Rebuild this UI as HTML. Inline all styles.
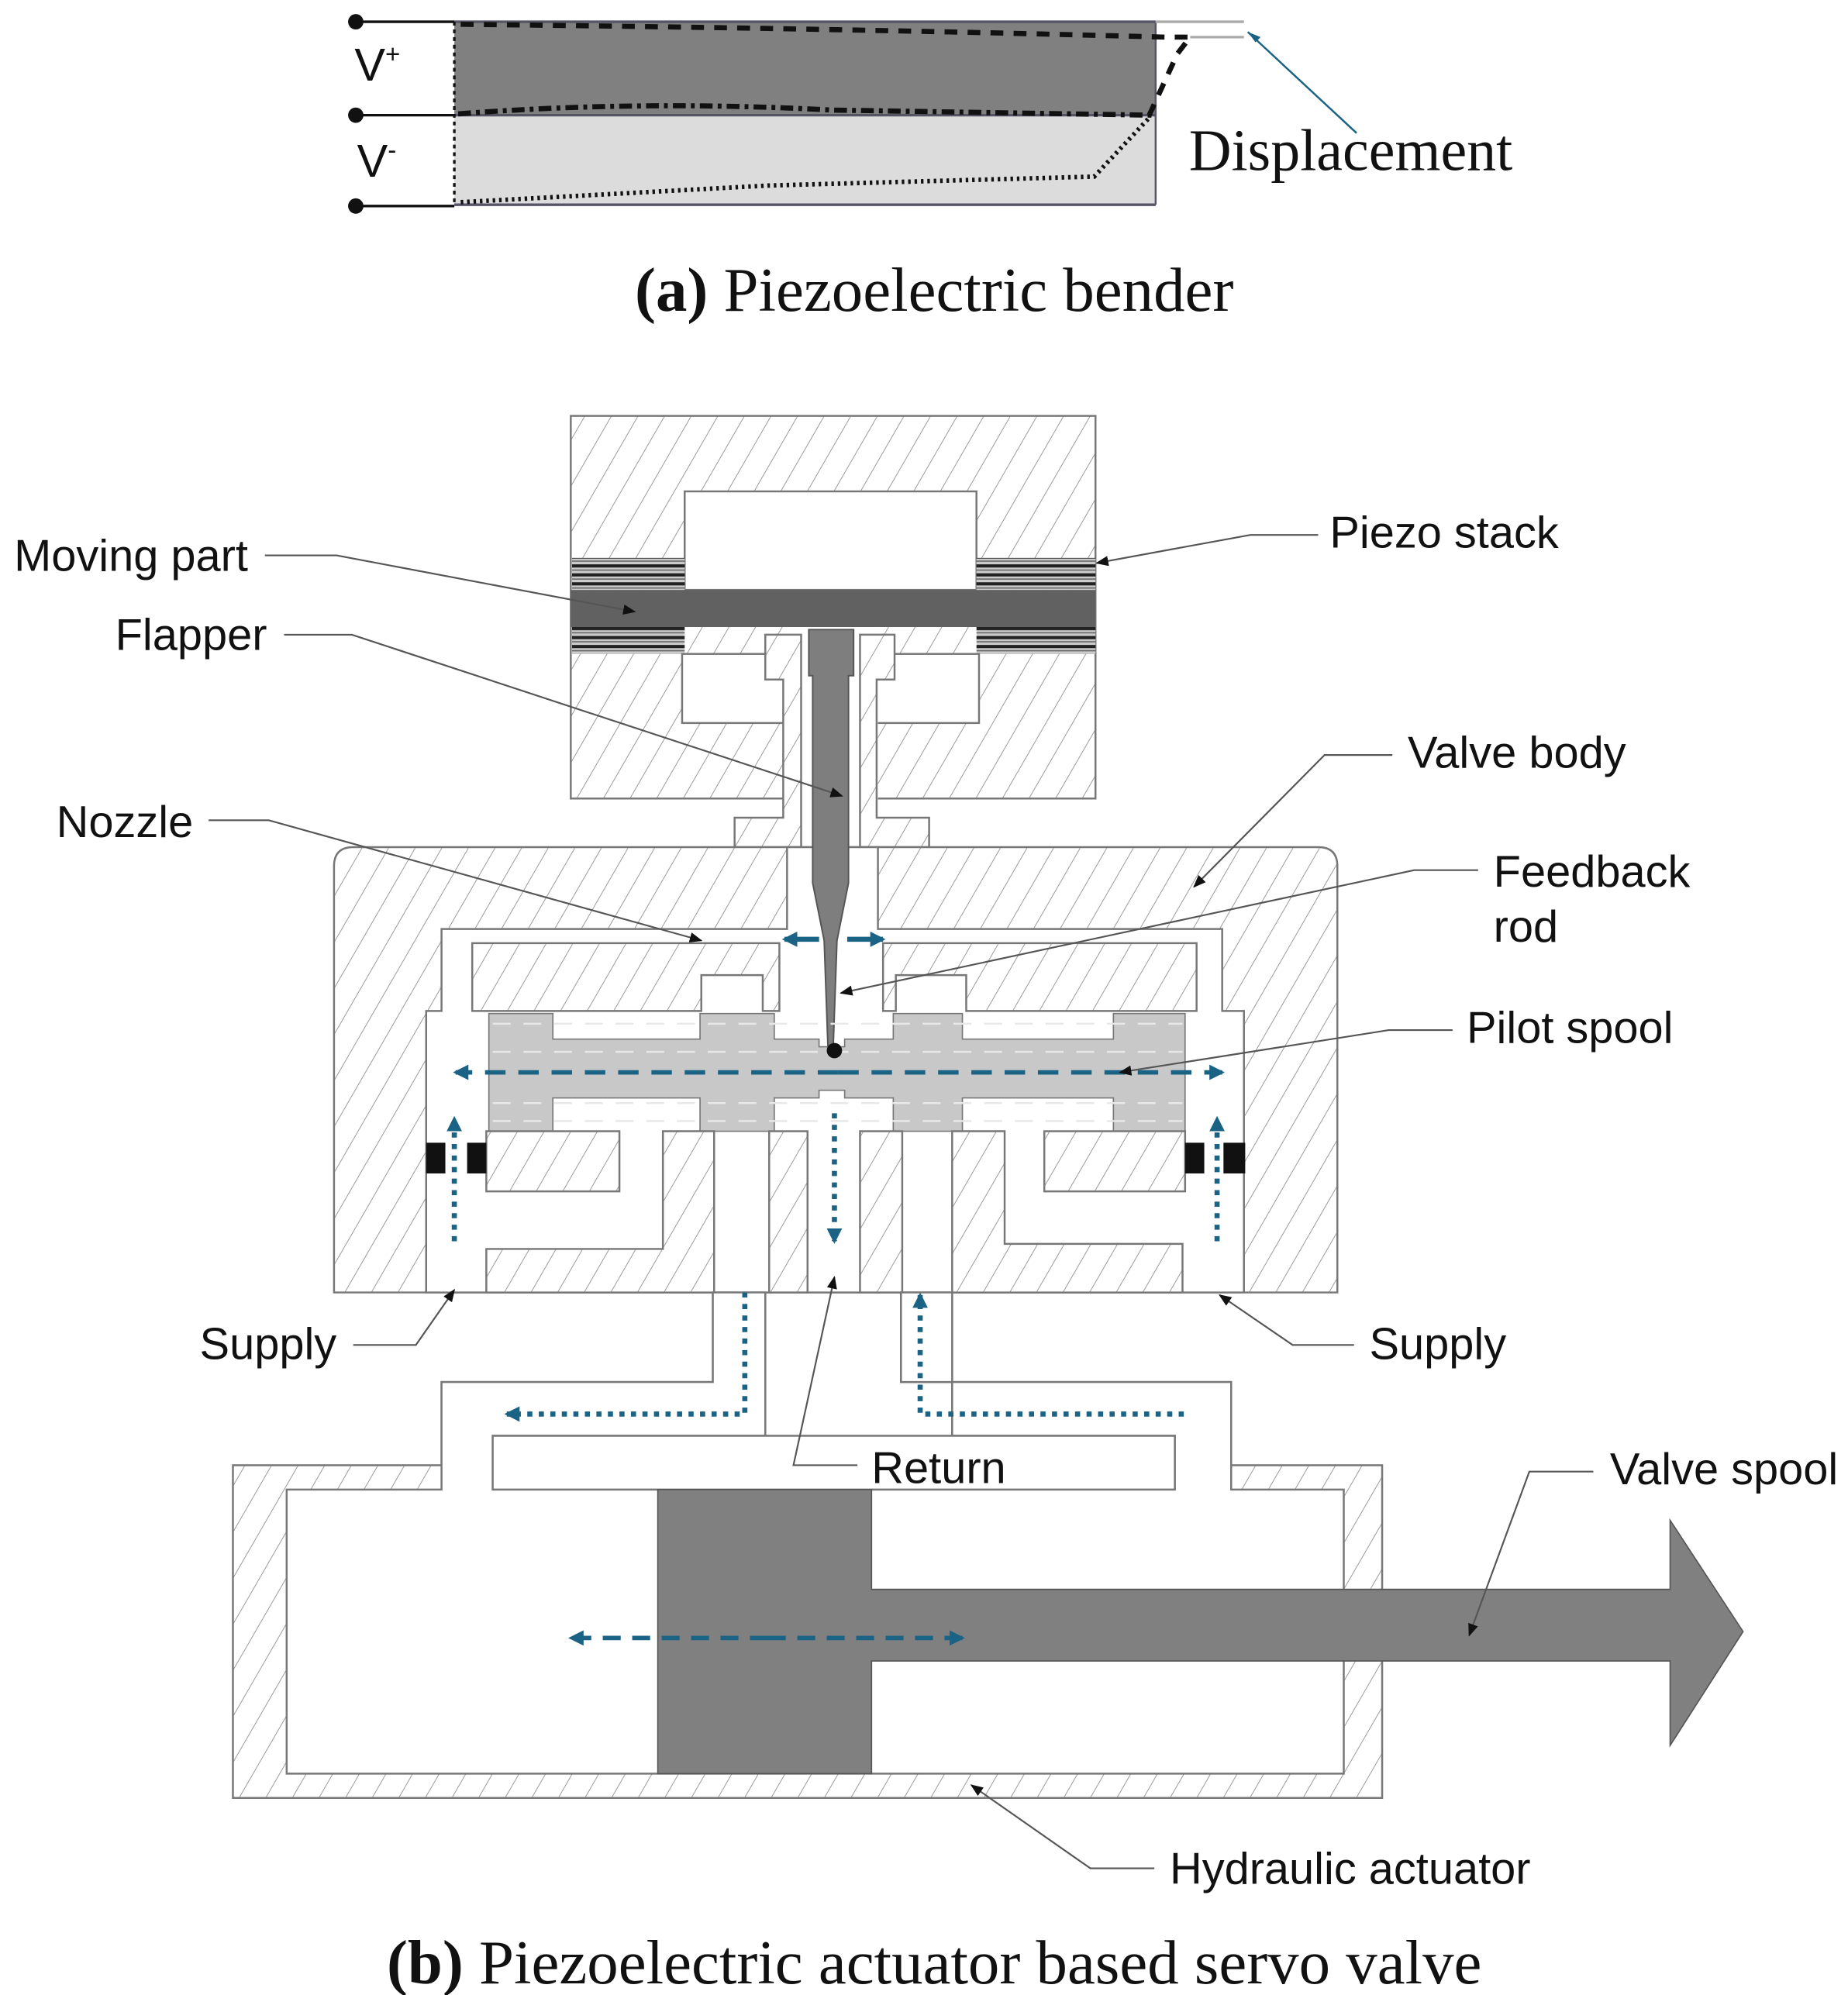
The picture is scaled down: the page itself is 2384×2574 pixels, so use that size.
<!DOCTYPE html>
<html><head><meta charset="utf-8"><style>
html,body{margin:0;padding:0;background:#fff}
svg{display:block}
.t{font-family:"Liberation Sans",sans-serif;font-size:35px;fill:#111}
.c{font-family:"Liberation Serif",serif;font-size:49px;fill:#111}
</style></head><body>
<svg width="2384" height="2574" viewBox="0 0 1444 1559" preserveAspectRatio="none" xmlns="http://www.w3.org/2000/svg">
<defs>
<pattern id="h" patternUnits="userSpaceOnUse" width="18" height="18" patternTransform="rotate(30)">
<rect width="18" height="18" fill="#fff"/><line x1="0" y1="0" x2="0" y2="18" stroke="#9a9a9a" stroke-width="1.2"/>
</pattern>
<pattern id="st" patternUnits="userSpaceOnUse" width="10" height="7">
<rect width="10" height="7" fill="#ccc"/><rect y="0" width="10" height="2.5" fill="#222"/><rect y="4" width="10" height="1" fill="#666"/>
</pattern>
<marker id="ak" markerWidth="10" markerHeight="8" refX="9" refY="4" orient="auto" markerUnits="userSpaceOnUse"><path d="M0,0 L10,4 L0,8 Z" fill="#111"/></marker>
<marker id="ab" markerWidth="12" markerHeight="12" refX="10" refY="6" orient="auto" markerUnits="userSpaceOnUse"><path d="M0,0 L12,6 L0,12 Z" fill="#1b6385"/></marker>
</defs>

<!-- (a) bender -->
<rect x="355" y="17" width="548" height="73" fill="#808080"/>
<rect x="355" y="90" width="548" height="70" fill="#dcdcdc"/>
<line x1="355" y1="17" x2="903" y2="17" stroke="#556" stroke-width="2"/>
<line x1="355" y1="90" x2="903" y2="90" stroke="#556" stroke-width="2"/>
<line x1="355" y1="160" x2="903" y2="160" stroke="#556" stroke-width="2"/>
<line x1="903" y1="17" x2="903" y2="160" stroke="#556" stroke-width="1.5"/>
<line x1="355" y1="17" x2="355" y2="160" stroke="#111" stroke-width="2" stroke-dasharray="3,3"/>
<g stroke="#111" stroke-width="2"><line x1="278" y1="17" x2="355" y2="17"/><line x1="278" y1="90" x2="355" y2="90"/><line x1="278" y1="161" x2="355" y2="161"/></g>
<g fill="#111"><circle cx="278" cy="17" r="6"/><circle cx="278" cy="90" r="6"/><circle cx="278" cy="161" r="6"/></g>
<line x1="903" y1="17" x2="972" y2="17" stroke="#aaa" stroke-width="2"/>
<line x1="930" y1="29" x2="972" y2="29" stroke="#aaa" stroke-width="2"/>
<path d="M360,19 Q650,22 910,29 L930,29 L920,42 L898,90" fill="none" stroke="#111" stroke-width="4" stroke-dasharray="10,8"/>
<path d="M358,89 Q500,78 650,86 L900,90" fill="none" stroke="#111" stroke-width="4" stroke-dasharray="10,4,3,4"/>
<path d="M360,158 L600,145 L855,138 L898,92" fill="none" stroke="#111" stroke-width="3.5" stroke-dasharray="2,3"/>
<line x1="1060" y1="104" x2="975" y2="25" stroke="#1b6385" stroke-width="1.5"/>
<path d="M975,25 L985,29 L981,33 Z" fill="#1b6385"/>
<text x="277" y="63" class="t" style="font-size:36px">V<tspan dy="-14" style="font-size:20px">+</tspan></text>
<text x="279" y="138" class="t" style="font-size:36px">V<tspan dy="-14" style="font-size:20px">-</tspan></text>
<text x="929" y="133" class="c" style="font-size:46px">Displacement</text>
<text x="730" y="243" class="c" text-anchor="middle"><tspan font-weight="bold">(a)</tspan> Piezoelectric bender</text>

<!-- top block -->
<g stroke="#777" stroke-width="1.5">
<rect x="446" y="325" width="410" height="299" fill="url(#h)"/>
<rect x="535" y="384" width="228" height="77" fill="#fff"/>
<rect x="447" y="436" width="88" height="25" fill="url(#st)" stroke="none"/>
<rect x="763" y="436" width="93" height="25" fill="url(#st)" stroke="none"/>
<rect x="447" y="489" width="88" height="22" fill="url(#st)" stroke="none"/>
<rect x="763" y="489" width="93" height="22" fill="url(#st)" stroke="none"/>
<rect x="446" y="461" width="410" height="29" fill="#616161" stroke="none"/>
<rect x="533" y="511" width="232" height="54" fill="#fff"/>
<rect x="612" y="490" width="74" height="175" fill="#fff" stroke="none"/>
<path d="M598,496 L626,496 L626,662 L574,662 L574,639 L612,639 L612,531 L598,531 Z" fill="url(#h)"/>
<path d="M672,496 L699,496 L699,531 L685,531 L685,639 L726,639 L726,662 L672,662 Z" fill="url(#h)"/>
</g>

<!-- valve body -->
<g stroke="#777" stroke-width="1.5">
<path d="M276,662 L1030,662 Q1045,662 1045,677 L1045,1010 L261,1010 L261,677 Q261,662 276,662 Z" fill="url(#h)"/>
<path d="M345,726 L615,726 L615,662 L686,662 L686,726 L955,726 L955,790 L972,790 L972,1010 L333,1010 L333,790 L345,790 Z" fill="#fff"/>
<path d="M369,737 L609,737 L609,790 L596,790 L596,762 L548,762 L548,790 L369,790 Z" fill="url(#h)"/>
<path d="M690,737 L935,737 L935,790 L755,790 L755,762 L700,762 L700,790 L690,790 Z" fill="url(#h)"/>
</g>
<!-- nozzle flapper -->
<path d="M632,492 L667,492 L667,528 L663,528 L663,690 L654,735 L651,820 L647,820 L644,735 L635,690 L635,528 L632,528 Z" fill="#7e7e7e" stroke="#555" stroke-width="1.2"/>
<!-- spool -->
<g stroke="#777" stroke-width="1">
<path d="M382,792 L432,792 L432,812 L547,812 L547,792 L605,792 L605,812 L640,812 L640,818 L660,818 L660,812 L698,812 L698,792 L752,792 L752,812 L870,812 L870,792 L926,792 L926,884 L870,884 L870,858 L752,858 L752,884 L698,884 L698,858 L660,858 L660,852 L640,852 L640,858 L605,858 L605,884 L547,884 L547,858 L432,858 L432,884 L382,884 Z" fill="#c8c8c8"/>
</g>
<g stroke="#e8e8e8" stroke-width="1.5" stroke-dasharray="14,10"><line x1="385" y1="800" x2="924" y2="800"/><line x1="385" y1="822" x2="924" y2="822"/><line x1="385" y1="862" x2="924" y2="862"/><line x1="385" y1="876" x2="924" y2="876"/></g>
<circle cx="652" cy="821" r="6" fill="#111"/>
<!-- lower pieces -->
<g stroke="#777" stroke-width="1.5" fill="url(#h)">
<rect x="380" y="884" width="104" height="47"/>
<rect x="816" y="884" width="110" height="47"/>
<path d="M518,884 L558,884 L558,1010 L380,1010 L380,976 L518,976 Z"/>
<path d="M744,884 L785,884 L785,972 L924,972 L924,1010 L744,1010 Z"/>
<rect x="601" y="884" width="30" height="126"/>
<rect x="672" y="884" width="33" height="126"/>
</g>
<g fill="#111"><rect x="333" y="893" width="15" height="24"/><rect x="365" y="893" width="15" height="24"/><rect x="926" y="893" width="15" height="24"/><rect x="956" y="893" width="17" height="24"/></g>

<!-- lower manifold + actuator -->
<g stroke="#777" stroke-width="1.5">
<path d="M182,1145 L345,1145 L345,1080 L557,1080 L557,1010 L598,1010 L598,1122 L385,1122 L385,1164 L918,1164 L918,1122 L744,1122 L744,1010 L704,1010 L704,1080 L962,1080 L962,1145 L1080,1145 L1080,1405 L182,1405 Z" fill="url(#h)"/>
<path d="M224,1164 L345,1164 L345,1080 L557,1080 L557,1010 L598,1010 L598,1122 L385,1122 L385,1164 L918,1164 L918,1122 L744,1122 L744,1010 L704,1010 L704,1080 L962,1080 L962,1164 L1050,1164 L1050,1386 L224,1386 Z" fill="#fff"/>
</g>
<rect x="385" y="1122" width="533" height="42" fill="#fff" stroke="#777" stroke-width="1.5"/>
<path d="M514,1164 L681,1164 L681,1242 L1305,1242 L1305,1188 L1362,1275 L1305,1364 L1305,1298 L681,1298 L681,1386 L514,1386 Z" fill="#808080" stroke="#555" stroke-width="1"/>

<!-- blue flow arrows -->
<g stroke="#1b6385" fill="none">
<line x1="640" y1="734" x2="613" y2="734" stroke-width="4" marker-end="url(#ab)"/>
<line x1="662" y1="734" x2="690" y2="734" stroke-width="4" marker-end="url(#ab)"/>
<line x1="655" y1="838" x2="356" y2="838" stroke-width="3.5" stroke-dasharray="16,10" marker-end="url(#ab)"/>
<line x1="655" y1="838" x2="955" y2="838" stroke-width="3.5" stroke-dasharray="16,10" marker-end="url(#ab)"/>
<line x1="355" y1="970" x2="355" y2="874" stroke-width="4" stroke-dasharray="4,5" marker-end="url(#ab)"/>
<line x1="951" y1="970" x2="951" y2="874" stroke-width="4" stroke-dasharray="4,5" marker-end="url(#ab)"/>
<line x1="652" y1="870" x2="652" y2="970" stroke-width="4" stroke-dasharray="4,5" marker-end="url(#ab)"/>
<polyline points="582,1010 582,1105 396,1105" stroke-width="4" stroke-dasharray="4,5" marker-end="url(#ab)"/>
<polyline points="925,1105 719,1105 719,1012" stroke-width="4" stroke-dasharray="4,5" marker-end="url(#ab)"/>
<line x1="600" y1="1280" x2="446" y2="1280" stroke-width="3.5" stroke-dasharray="14,9" marker-end="url(#ab)"/>
<line x1="600" y1="1280" x2="752" y2="1280" stroke-width="3.5" stroke-dasharray="14,9" marker-end="url(#ab)"/>
</g>

<!-- leaders -->
<g stroke="#555" stroke-width="1.3" fill="none">
<polyline points="207,434 263,434 496,478" marker-end="url(#ak)"/>
<polyline points="222,496 275,496 658,622" marker-end="url(#ak)"/>
<polyline points="163,641 210,641 548,735" marker-end="url(#ak)"/>
<polyline points="1030,418 977,418 857,440" marker-end="url(#ak)"/>
<polyline points="1088,590 1035,590 933,693" marker-end="url(#ak)"/>
<polyline points="1155,680 1105,680 657,776" marker-end="url(#ak)"/>
<polyline points="1135,805 1085,805 875,838" marker-end="url(#ak)"/>
<polyline points="276,1051 325,1051 355,1008" marker-end="url(#ak)"/>
<polyline points="1058,1051 1010,1051 953,1012" marker-end="url(#ak)"/>
<polyline points="670,1145 620,1145 652,998" marker-end="url(#ak)"/>
<polyline points="1245,1150 1195,1150 1148,1278" marker-end="url(#ak)"/>
<polyline points="902,1460 852,1460 759,1395" marker-end="url(#ak)"/>
</g>

<g class="t">
<text x="11" y="446">Moving part</text>
<text x="90" y="508">Flapper</text>
<text x="44" y="654">Nozzle</text>
<text x="1039" y="428">Piezo stack</text>
<text x="1100" y="600">Valve body</text>
<text x="1167" y="693">Feedback</text>
<text x="1167" y="736">rod</text>
<text x="1146" y="815">Pilot spool</text>
<text x="156" y="1062">Supply</text>
<text x="1070" y="1062">Supply</text>
<text x="681" y="1159">Return</text>
<text x="1258" y="1160">Valve spool</text>
<text x="914" y="1472">Hydraulic actuator</text>
</g>
<text x="730" y="1550" class="c" text-anchor="middle"><tspan font-weight="bold">(b)</tspan> Piezoelectric actuator based servo valve</text>
</svg>
</body></html>
